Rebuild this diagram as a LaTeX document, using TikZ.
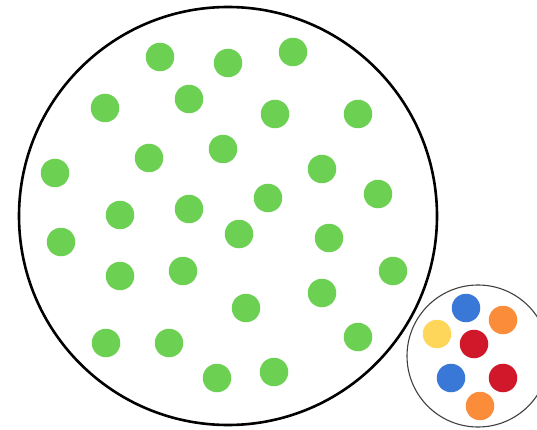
\documentclass[tikz,border=0pt]{standalone}
\usetikzlibrary{positioning}

\definecolor{verde}{RGB}{108,208,82}
\definecolor{azul}{RGB}{58,120,216}
\definecolor{naranja}{RGB}{250,140,58}
\definecolor{amarillo}{RGB}{253,214,90}
\definecolor{rojo}{RGB}{208,24,42}

\begin{document}
\begin{tikzpicture}[x=1pt,y=-1pt,
 grande/.style={circle,draw=black,line width=2.6pt,minimum size=418pt,inner sep=0pt},
 muestra/.style={circle,draw=black!75,line width=1.1pt,minimum size=142pt,inner sep=0pt},
 punto/.style={circle,fill=#1,minimum size=28.5pt,inner sep=0pt}]
\useasboundingbox (0,0) rectangle (537,430);
\clip (0,0) rectangle (537,430);
\fill[white] (0,0) rectangle (537,430);
\node[grande] (poblacion) at (228,216) {};
\node[muestra] (muestra) at (478,356) {};
% puntos de la poblacion
\foreach \x/\y [count=\i] in {160/57,228/63,293/52,
  105/108,189/99,275/114,358/114,
  55/173,149/158,223/149,322/169,378/194,
  120/215,189/209,268/198,
  61/242,239/234,329/238,
  120/276,183/271,393/271,
  246/308,322/293,
  106/343,169/343,358/337,
  217/378,274/372}
  \node[punto=verde] (p\i) at (\x,\y) {};
% puntos de la muestra
\foreach \x/\y/\c [count=\i] in {466/308/azul,503/320/naranja,437/334/amarillo,474/344/rojo,
  451/378/azul,503/378/rojo,480/406/naranja}
  \node[punto=\c] (m\i) at (\x,\y) {};
\end{tikzpicture}
\end{document}
